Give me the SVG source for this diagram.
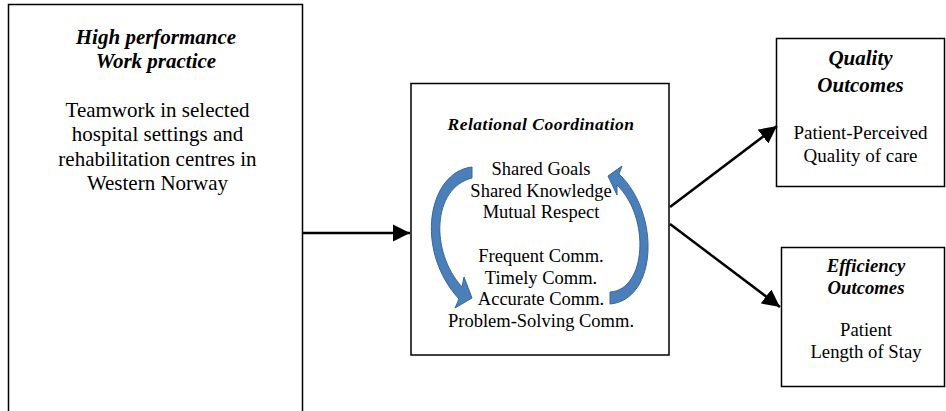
<svg xmlns="http://www.w3.org/2000/svg" width="946" height="411" viewBox="0 0 946 411">
  <style>
    .box { fill: #ffffff; stroke: #000000; stroke-width: 1.5; }
    .t { font-family: "Liberation Serif", "Times New Roman", serif; fill: #000000; text-anchor: middle; }
    .h { font-weight: bold; font-style: italic; }
    .conn { stroke: #000000; stroke-width: 2.5; fill: none; marker-end: url(#head); }
    .cycle { fill: #4a7fba; stroke: #36679d; stroke-width: 1; }
  </style>
  <defs>
    <marker id="head" viewBox="0 0 10 10" refX="10" refY="5" markerWidth="7" markerHeight="7" markerUnits="strokeWidth" orient="auto">
      <path d="M0,0 L10,5 L0,10 Z" fill="#000000"/>
    </marker>
  </defs>
  <rect width="946" height="411" fill="#ffffff"/>

  <g id="high-performance">
    <rect class="box" x="8.5" y="4.5" width="294" height="420" stroke-width="2"/>
    <text class="t h" x="156" y="43.5" font-size="21">High performance</text>
    <text class="t h" x="156" y="68" font-size="21">Work practice</text>
    <text class="t" x="157.5" y="116.5" font-size="21">Teamwork in selected</text>
    <text class="t" x="157.5" y="141" font-size="21">hospital settings and</text>
    <text class="t" x="157.5" y="165.5" font-size="21">rehabilitation centres in</text>
    <text class="t" x="157.5" y="190" font-size="21">Western Norway</text>
  </g>

  <g id="relational-coordination">
    <rect class="box" x="411" y="83.5" width="258" height="271.5"/>
    <text class="t h" x="541" y="130" font-size="17.5" letter-spacing="0.5">Relational Coordination</text>
    <text class="t" x="541" y="175" font-size="18.5">Shared Goals</text>
    <text class="t" x="541" y="196.5" font-size="18.5">Shared Knowledge</text>
    <text class="t" x="541" y="218" font-size="18.5">Mutual Respect</text>
    <text class="t" x="541" y="262" font-size="18.5">Frequent Comm.</text>
    <text class="t" x="541" y="283.5" font-size="18.5">Timely Comm.</text>
    <text class="t" x="541" y="305" font-size="18.5">Accurate Comm.</text>
    <text class="t" x="541" y="326.5" font-size="18.5">Problem-Solving Comm.</text>
    <!-- circular block arrows around the coordination dimensions -->
    <path class="cycle" d="M472,167 C428,172 414,250 459,299 L455,308 L472,298 L464,277 L462,287 C430,252 432,188 472,178 Z"/>
    <path class="cycle" d="M610,304 C657,300 661,214 619,174 L622,166 L608,176 L617,195 L617,185 C651,218 646,290 610,292 Z"/>
  </g>

  <g id="quality-outcomes">
    <rect class="box" x="776.5" y="38.5" width="168" height="148"/>
    <text class="t h" x="860.5" y="65" font-size="21">Quality</text>
    <text class="t h" x="860.5" y="91.5" font-size="21">Outcomes</text>
    <text class="t" x="860.5" y="139" font-size="19">Patient-Perceived</text>
    <text class="t" x="860.5" y="161.5" font-size="19">Quality of care</text>
  </g>

  <g id="efficiency-outcomes">
    <rect class="box" x="781.5" y="247.5" width="163" height="139"/>
    <text class="t h" x="866" y="271.5" font-size="18.7">Efficiency</text>
    <text class="t h" x="866" y="293.5" font-size="18.7">Outcomes</text>
    <text class="t" x="866" y="335.5" font-size="18.7">Patient</text>
    <text class="t" x="866" y="357.5" font-size="18.7">Length of Stay</text>
  </g>

  <g id="connectors">
    <line class="conn" x1="303" y1="233" x2="410" y2="233"/>
    <line class="conn" x1="670" y1="207" x2="777" y2="126"/>
    <line class="conn" x1="670" y1="224" x2="780" y2="307"/>
  </g>
</svg>
